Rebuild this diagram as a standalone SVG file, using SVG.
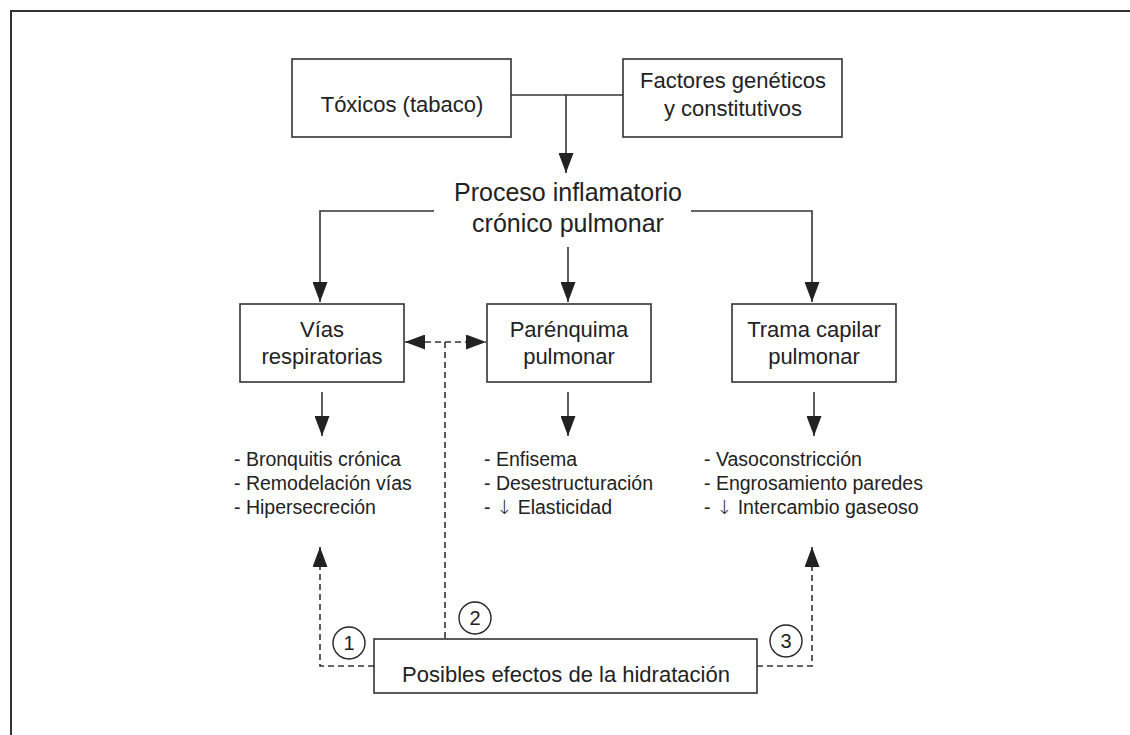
<svg xmlns="http://www.w3.org/2000/svg" width="1130" height="735" viewBox="0 0 1130 735">
<style>
  text { font-family: "Liberation Sans", Arial, sans-serif; fill: #222; }
  .box { fill: #fff; stroke: #333; stroke-width: 1.6; }
  .t22 { font-size: 22px; text-anchor: middle; }
  .t25 { font-size: 25px; text-anchor: middle; }
  .list { font-size: 19.5px; }
  .arr { font-family: "DejaVu Sans", sans-serif; font-weight: 300; fill: #222; }
  .ln { fill: none; stroke: #333; stroke-width: 1.6; }
  .dash { fill: none; stroke: #333; stroke-width: 1.6; stroke-dasharray: 6 4; }
  .circ { fill: none; stroke: #222; stroke-width: 1.4; }
  .num { font-size: 20px; text-anchor: middle; }
</style>
<defs>
  <marker id="ahb" viewBox="0 0 20 15" refX="20" refY="7.5" markerWidth="20" markerHeight="15" markerUnits="userSpaceOnUse" orient="auto-start-reverse">
    <path d="M0,0 L20,7.5 L0,15 Z" fill="#222"/>
  </marker>
</defs>
<rect width="1130" height="735" fill="#fff"/>
<path d="M11,735 L11,11 L1130,11" fill="none" stroke="#333" stroke-width="2"/>

<g id="connectors">
  <path class="ln" d="M511,95 L623,95"/>
  <path class="ln" d="M566,95 L566,173" marker-end="url(#ahb)"/>
  <path class="ln" d="M434,211 L320,211 L320,302" marker-end="url(#ahb)"/>
  <path class="ln" d="M691,211 L812,211 L812,302" marker-end="url(#ahb)"/>
  <path class="ln" d="M568,247 L568,302" marker-end="url(#ahb)"/>
  <path class="ln" d="M322,392 L322,436" marker-end="url(#ahb)"/>
  <path class="ln" d="M568,392 L568,436" marker-end="url(#ahb)"/>
  <path class="ln" d="M814,392 L814,436" marker-end="url(#ahb)"/>
  <path class="dash" d="M405,342 L486,342" marker-start="url(#ahb)" marker-end="url(#ahb)"/>
  <path class="dash" d="M445,342 L445,639"/>
  <path class="dash" d="M374,666 L320,666 L320,547" marker-end="url(#ahb)"/>
  <path class="dash" d="M757,666 L812,666 L812,547" marker-end="url(#ahb)"/>
</g>

<g id="toxicos">
  <rect class="box" x="292" y="59" width="219" height="78"/>
  <text class="t22" x="402" y="112">Tóxicos (tabaco)</text>
</g>
<g id="factores">
  <rect class="box" x="623" y="59" width="219" height="78"/>
  <text class="t22" x="733" y="88">Factores genéticos</text>
  <text class="t22" x="733" y="116">y constitutivos</text>
</g>
<g id="proceso">
  <text class="t25" x="568" y="201">Proceso inflamatorio</text>
  <text class="t25" x="568" y="232">crónico pulmonar</text>
</g>
<g id="vias">
  <rect class="box" x="240" y="304" width="164" height="78"/>
  <text class="t22" x="322" y="337">Vías</text>
  <text class="t22" x="322" y="364">respiratorias</text>
</g>
<g id="parenquima">
  <rect class="box" x="487" y="304" width="164" height="78"/>
  <text class="t22" x="569" y="337">Parénquima</text>
  <text class="t22" x="569" y="364">pulmonar</text>
</g>
<g id="trama">
  <rect class="box" x="732" y="304" width="164" height="78"/>
  <text class="t22" x="814" y="337">Trama capilar</text>
  <text class="t22" x="814" y="364">pulmonar</text>
</g>
<g id="lista-vias">
  <text class="list" x="234" y="466">- Bronquitis crónica</text>
  <text class="list" x="234" y="490">- Remodelación vías</text>
  <text class="list" x="234" y="514">- Hipersecreción</text>
</g>
<g id="lista-parenquima">
  <text class="list" x="484" y="466">- Enfisema</text>
  <text class="list" x="484" y="490">- Desestructuración</text>
  <text class="list" x="484" y="514">- <tspan class="arr">↓</tspan> Elasticidad</text>
</g>
<g id="lista-trama">
  <text class="list" x="704" y="466">- Vasoconstricción</text>
  <text class="list" x="704" y="490">- Engrosamiento paredes</text>
  <text class="list" x="704" y="514">- <tspan class="arr">↓</tspan> Intercambio gaseoso</text>
</g>
<g id="hidratacion">
  <rect class="box" x="374" y="639" width="383" height="54"/>
  <text class="t22" x="566" y="682">Posibles efectos de la hidratación</text>
</g>
<g id="num1">
  <circle class="circ" cx="349" cy="643" r="16"/>
  <text class="num" x="349" y="650">1</text>
</g>
<g id="num2">
  <circle class="circ" cx="475" cy="618" r="16"/>
  <text class="num" x="475" y="625">2</text>
</g>
<g id="num3">
  <circle class="circ" cx="786" cy="641" r="16"/>
  <text class="num" x="786" y="648">3</text>
</g>
</svg>
